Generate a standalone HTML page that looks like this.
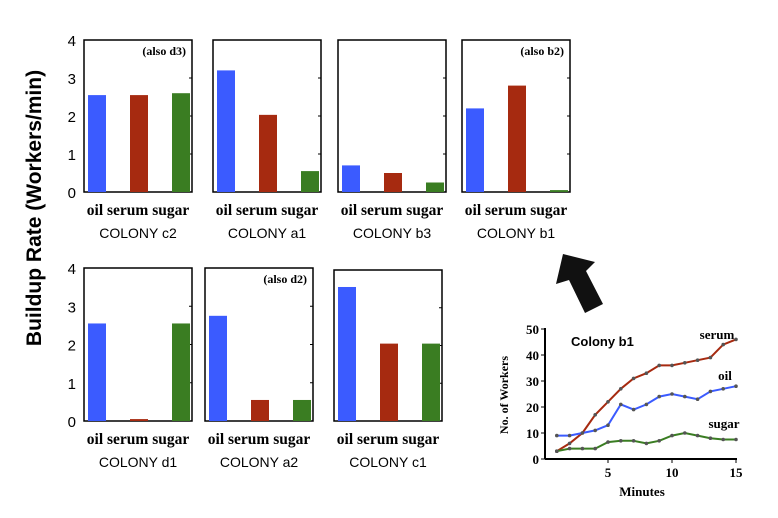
<!DOCTYPE html>
<html><head><meta charset="utf-8"><style>
body{margin:0;background:#fff;width:778px;height:518px;overflow:hidden}
svg{display:block}
</style></head><body>
<svg id="s" width="778" height="518" xmlns="http://www.w3.org/2000/svg">
<text x="41" y="208" transform="rotate(-90 41 208)" text-anchor="middle" font-family="Liberation Sans, sans-serif" font-weight="bold" font-size="21">Buildup Rate (Workers/min)</text>
<polygon points="563,254 595,262 586,271 603,304 585,313 569,280 556,284" fill="#111"/>
</svg>
<script>
const NS='http://www.w3.org/2000/svg';
const svg=document.getElementById('s');
const colonies=['c2','a1','b3','b1','d1','a2','c1'];
const notes=['(also d3)','','','(also b2)','','(also d2)',''];
const oilVals=[2.55,3.2,0.7,2.2,2.55,2.75,3.55];
const serumVals=[2.55,2.03,0.5,2.8,0.05,0.55,2.05];
const sugarVals=[2.6,0.55,0.25,0.05,2.55,0.55,2.05];
const yTicks=[0,1,2,3,4];
const minutes=[1,2,3,4,5,6,7,8,9,10,11,12,13,14,15];
const serumLine=[3,6,10,17,22,27,31,33,36,36,37,38,39,44,46];
const oilLine=[9,9,10,11,13,21,19,21,24,25,24,23,26,27,28];
const sugarLine=[3,4,4,4,6.5,7,7,6,7,9,10,9,8,7.5,7.5];
const lineYTicks=[0,10,20,30,40,50];
const lineXTicks=[5,10,15];
const COLORS=['#3b5bff','#a62a10','#3a7d22'];
function el(t,a,txt){const e=document.createElementNS(NS,t);for(const k in a)e.setAttribute(k,a[k]);if(txt!=null)e.textContent=txt;svg.appendChild(e);return e;}
const panels=[{x:84,t:40,b:192},{x:213,t:40,b:192},{x:338,t:40,b:192},{x:462,t:40,b:192},{x:84,t:268,b:421},{x:205,t:268,b:421},{x:334,t:270,b:421}];
panels.forEach((p,i)=>{
  const W=108;const y=v=>p.b-(p.b-p.t)*v/4;
  const r=el('rect',{x:p.x,y:p.t,width:W,height:p.b-p.t,fill:'none',stroke:'#000','stroke-width':1.5});
  
  
  if(i==0||i==4){yTicks.forEach(t=>{const tx=el('text',{x:p.x-8,y:y(t)+6,'text-anchor':'end','font-family':'Liberation Sans, sans-serif','font-size':15},t);
    
    });}
  yTicks.slice(1,4).forEach(t=>{el('line',{x1:p.x+W-3,x2:p.x+W,y1:y(t),y2:y(t),stroke:'#000'});});
  [oilVals,serumVals,sugarVals].forEach((arr,k)=>{
    const bx=p.x+4+k*42;const v=arr[i];
    const b=el('rect',{x:bx,y:y(v),width:18,height:p.b-y(v),fill:COLORS[k]});
    
    
  });
  const lab=el('text',{x:p.x+W/2,y:p.b+23,'text-anchor':'middle','font-family':'Liberation Serif, serif','font-weight':'bold','font-size':15.5},'oil serum sugar');
  
  
  const c=el('text',{x:p.x+W/2,y:p.b+46,'text-anchor':'middle','font-family':'Liberation Sans, sans-serif','font-size':14},'COLONY  '+colonies[i]);
  
  
  if(notes[i]){const n=el('text',{x:p.x+W-6,y:p.t+15,'text-anchor':'end','font-family':'Liberation Serif, serif','font-weight':'bold','font-size':12},notes[i]);
    
    }
});
// line chart
const X=m=>544+12.8*m, Y=v=>459-2.6*v;
el('line',{x1:545,x2:545,y1:328,y2:459,stroke:'#000','stroke-width':2});
el('line',{x1:545,x2:737,y1:459,y2:459,stroke:'#000','stroke-width':2});
lineYTicks.forEach(t=>{el('line',{x1:541,x2:545,y1:Y(t),y2:Y(t),stroke:'#000'});
  const tx=el('text',{x:539,y:Y(t)+5,'text-anchor':'end','font-family':'Liberation Serif, serif','font-weight':'bold','font-size':13},t);
  
  });
lineXTicks.forEach(t=>{el('line',{x1:X(t),x2:X(t),y1:459,y2:463,stroke:'#000'});
  const tx=el('text',{x:X(t),y:477,'text-anchor':'middle','font-family':'Liberation Serif, serif','font-weight':'bold','font-size':13},t);
  
  });
[[serumLine,COLORS[1],'serum',[717,339]],[oilLine,COLORS[0],'oil',[725,380]],[sugarLine,COLORS[2],'sugar',[724,428]]].forEach(([arr,col,nm,lp])=>{
  const pts=minutes.map((m,i)=>X(m)+','+Y(arr[i])).join(' ');
  const pl=el('polyline',{points:pts,fill:'none',stroke:col,'stroke-width':2});
  
  
  minutes.forEach((m,i)=>{const d=el('circle',{cx:X(m),cy:Y(arr[i]),r:1.8,fill:'#555'});
    
    });
  const l=el('text',{x:lp[0],y:lp[1],'text-anchor':'middle','font-family':'Liberation Serif, serif','font-weight':'bold','font-size':13},nm);
  
  
});
const tt=el('text',{x:571,y:346,'font-family':'Liberation Sans, sans-serif','font-weight':'bold','font-size':13},'Colony  b1');


const xt=el('text',{x:642,y:496,'text-anchor':'middle','font-family':'Liberation Serif, serif','font-weight':'bold','font-size':13},'Minutes');


const yt=el('text',{x:508,y:395,transform:'rotate(-90 508 395)','text-anchor':'middle','font-family':'Liberation Serif, serif','font-weight':'bold','font-size':12},'No. of Workers');


</script>
</body></html>
